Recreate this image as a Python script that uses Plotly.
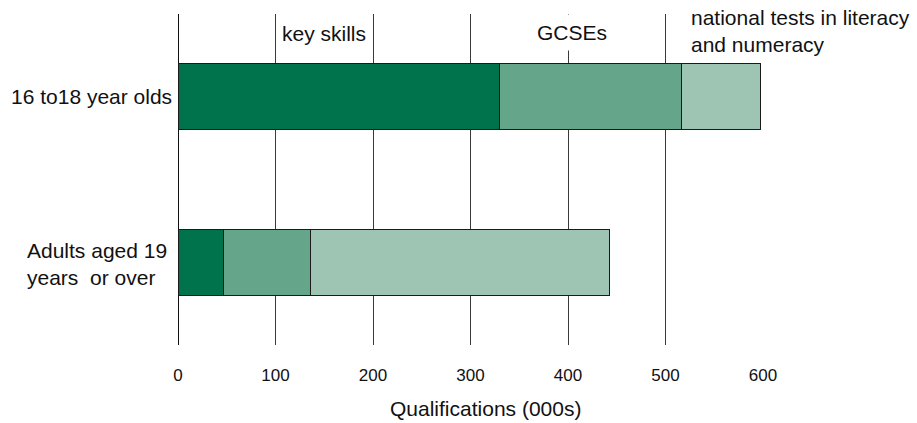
import plotly.graph_objects as go

# Qualifications achieved, in thousands, split by qualification type
groups = ["16 to18 year olds", "Adults aged 19 years  or over"]
group_labels = ["16 to18 year olds", "Adults aged 19<br>years \u00a0or over"]
series_names = ["key skills", "GCSEs", "national tests in literacy and numeracy"]
key_skills = [330, 47]
gcses = [186, 89]
national_tests = [81, 307]
x_ticks = [0, 100, 200, 300, 400, 500, 600]
x_title = "Qualifications (000s)"

colors = ["#00734D", "#65A68A", "#9EC4B4"]
font_family = "Liberation Sans, Arial, sans-serif"
label_size = 21

fig = go.Figure()
for name, vals, col in zip(series_names, [key_skills, gcses, national_tests], colors):
    fig.add_trace(go.Bar(
        name=name, y=groups, x=vals, orientation="h",
        marker=dict(color=col, line=dict(color="#1a1a1a", width=1)),
        hoverinfo="x+name",
    ))

# Category labels drawn as annotations so multi-line text stays left-aligned
fig.add_annotation(x=0, y=groups[0], xref="x", yref="y", text=group_labels[0],
                   showarrow=False, xanchor="right", align="right", xshift=-4,
                   font=dict(size=label_size, color="#111", family=font_family))
fig.add_annotation(x=0, y=groups[1], xref="x", yref="y", text=group_labels[1],
                   showarrow=False, xanchor="right", align="left", xshift=-9, yshift=-2,
                   font=dict(size=label_size, color="#111", family=font_family))

# Series labels placed above the bars
fig.add_annotation(x=105, y=1, xref="x", yref="paper", text=series_names[0],
                   showarrow=False, xanchor="left", yanchor="top", yshift=-6,
                   font=dict(size=label_size, color="#111", family=font_family))
fig.add_annotation(x=404, y=1, xref="x", yref="paper", text=series_names[1],
                   showarrow=False, xanchor="center", yanchor="top",
                   bgcolor="white", height=33, width=82, valign="middle",
                   font=dict(size=label_size, color="#111", family=font_family))
fig.add_annotation(x=524, y=1, xref="x", yref="paper",
                   text="national tests in literacy<br>and numeracy",
                   showarrow=False, xanchor="left", yanchor="top", yshift=14,
                   align="left", bgcolor="white", height=58, width=232, valign="middle",
                   font=dict(size=label_size, color="#111", family=font_family))

# Axis title, set slightly right of the plot centre
fig.add_annotation(x=0.5, y=0, xref="paper", yref="paper", text=x_title,
                   showarrow=False, xanchor="center", yanchor="middle",
                   xshift=15, yshift=-63,
                   font=dict(size=label_size, color="#111", family=font_family))

fig.update_layout(
    barmode="stack",
    bargap=0.6,
    width=917, height=423,
    margin=dict(l=178, r=154, t=14, b=78, autoexpand=False),
    paper_bgcolor="white", plot_bgcolor="white",
    showlegend=False,
    font=dict(family=font_family, color="#111"),
    xaxis=dict(
        range=[0, 600], tickvals=x_ticks, ticktext=[str(v) for v in x_ticks],
        showgrid=True, gridcolor="#3a3a3a", gridwidth=1,
        zeroline=True, zerolinecolor="#111", zerolinewidth=1,
        showline=False, ticks="", ticklabelstandoff=18, automargin=False,
        tickfont=dict(size=17, color="#111"),
    ),
    yaxis=dict(
        categoryorder="array", categoryarray=groups, autorange="reversed",
        showticklabels=False, showgrid=False, zeroline=False, ticks="",
        automargin=False,
    ),
)

fig.write_html("out.html")
